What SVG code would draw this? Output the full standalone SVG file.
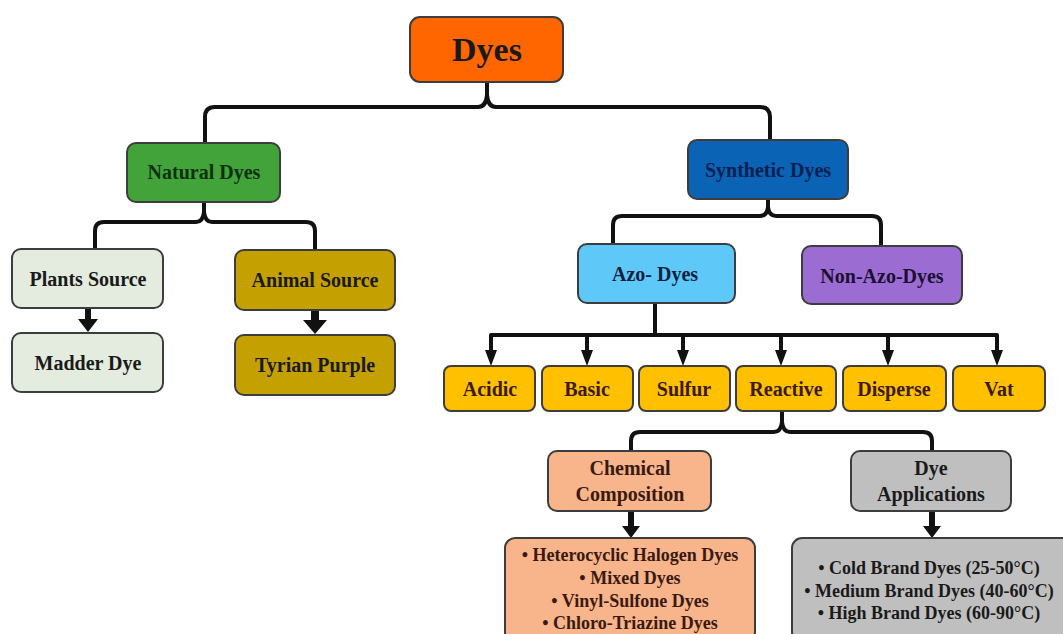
<svg xmlns="http://www.w3.org/2000/svg" width="1063" height="634" viewBox="0 0 1063 634">
<defs>
<style>
.box{stroke:#3d3d3d;stroke-width:2}
.t{font-family:"Liberation Serif","Times New Roman",serif;font-weight:bold;text-anchor:middle;fill:#1a1a1a}
.m{font-size:20px}
.s{font-size:18px}
.c{fill:none;stroke:#111;stroke-width:4;stroke-linecap:round;stroke-linejoin:round}
.th{fill:none;stroke:#111;stroke-width:4}
</style>
<marker id="ah" markerWidth="4" markerHeight="4" refX="2" refY="2" orient="auto" markerUnits="strokeWidth" viewBox="0 0 4 4">
<path d="M0,0.5 L4,2 L0,3.5 z" fill="#111"/>
</marker>
</defs>
<rect width="1063" height="634" fill="#ffffff"/>
<g id="connectors">
<path class="c" d="M205 143 L205 117 Q205 107 215 107 L478 107 Q486 107 487 95 L487 83"/>
<path class="c" d="M487 83 L487 95 Q488 107 496 107 L760 107 Q770 107 770 117 L770 140"/>
<path class="c" d="M95 249 L95 231 Q95 222 104 222 L196 222 Q203 222 204 212 L204 203"/>
<path class="c" d="M204 203 L204 212 Q205 222 212 222 L306 222 Q315 222 315 231 L315 250"/>
<path class="c" d="M613 244 L613 225 Q613 216 622 216 L760 216 Q767 216 768 207 L768 200"/>
<path class="c" d="M768 200 L768 207 Q769 216 776 216 L872 216 Q881 216 881 225 L881 246"/>
<path class="c" d="M631 451 L631 441 Q631 432 640 432 L774 432 Q781 432 782 422 L782 412"/>
<path class="c" d="M782 412 L782 422 Q783 432 790 432 L923 432 Q932 432 932 441 L932 451"/>
<path class="c" d="M655 304 L655 335"/>
<path class="c" d="M491 335 L997 335"/>
<path class="th" d="M491 335 L491 358" marker-end="url(#ah)"/>
<path class="th" d="M587 335 L587 358" marker-end="url(#ah)"/>
<path class="th" d="M683 335 L683 358" marker-end="url(#ah)"/>
<path class="th" d="M781 335 L781 358" marker-end="url(#ah)"/>
<path class="th" d="M888 335 L888 358" marker-end="url(#ah)"/>
<path class="th" d="M997 335 L997 358" marker-end="url(#ah)"/>
<path d="M85 309 L91 309 L91 319 L98 319 L88 332 L78 319 L85 319 z" fill="#111"/>
<path d="M311 311 L319 311 L319 320 L327 320 L315 334 L303 320 L311 320 z" fill="#111"/>
<path d="M628 512 L634 512 L634 526 L640 526 L631 538 L622 526 L628 526 z" fill="#111"/>
<path d="M929 512 L935 512 L935 526 L941 526 L932 538 L923 526 L929 526 z" fill="#111"/>
</g>
<g id="dyes"><rect class="box" x="410" y="17" width="153" height="65" rx="10" fill="#FF6600"/><text class="t" x="487" y="61" font-size="34" fill="#2a1100">Dyes</text></g>
<g id="natural"><rect class="box" x="127" y="143" width="153" height="59" rx="9" fill="#42A33A"/><text class="t m" x="204" y="179" style="fill:#0d300d">Natural Dyes</text></g>
<g id="synthetic"><rect class="box" x="688" y="140" width="160" height="59" rx="9" fill="#0A63B5"/><text class="t m" x="768" y="177" style="fill:#08204f">Synthetic Dyes</text></g>
<g id="plants"><rect class="box" x="12" y="249" width="151" height="59" rx="9" fill="#E3ECDE"/><text class="t m" x="88" y="286">Plants Source</text></g>
<g id="madder"><rect class="box" x="12" y="333" width="151" height="59" rx="9" fill="#E3ECDE"/><text class="t m" x="88" y="370">Madder Dye</text></g>
<g id="animal"><rect class="box" x="235" y="250" width="160" height="60" rx="9" fill="#C4A100"/><text class="t m" x="315" y="287">Animal Source</text></g>
<g id="tyrian"><rect class="box" x="235" y="335" width="160" height="60" rx="9" fill="#C4A100"/><text class="t m" x="315" y="372">Tyrian Purple</text></g>
<g id="azo"><rect class="box" x="578" y="244" width="157" height="59" rx="9" fill="#5EC9F8"/><text class="t m" x="655" y="281" style="fill:#0c1f40">Azo- Dyes</text></g>
<g id="nonazo"><rect class="box" x="802" y="246" width="160" height="58" rx="9" fill="#9B6DD2"/><text class="t m" x="882" y="283" style="fill:#1b0f33">Non-Azo-Dyes</text></g>
<g id="acidic"><rect class="box" x="444" y="366" width="91" height="45" rx="7" fill="#FFC000"/><text class="t m" x="490" y="396" style="fill:#3a1a00">Acidic</text></g>
<g id="basic"><rect class="box" x="542" y="366" width="91" height="45" rx="7" fill="#FFC000"/><text class="t m" x="587" y="396" style="fill:#3a1a00">Basic</text></g>
<g id="sulfur"><rect class="box" x="639" y="366" width="91" height="45" rx="7" fill="#FFC000"/><text class="t m" x="684" y="396" style="fill:#3a1a00">Sulfur</text></g>
<g id="reactive"><rect class="box" x="736" y="366" width="100" height="45" rx="7" fill="#FFC000"/><text class="t m" x="786" y="396" style="fill:#3a1a00">Reactive</text></g>
<g id="disperse"><rect class="box" x="843" y="366" width="103" height="45" rx="7" fill="#FFC000"/><text class="t m" x="894" y="396" style="fill:#3a1a00">Disperse</text></g>
<g id="vat"><rect class="box" x="953" y="366" width="92" height="45" rx="7" fill="#FFC000"/><text class="t m" x="999" y="396" style="fill:#3a1a00">Vat</text></g>
<g id="chemical"><rect class="box" x="548" y="451" width="163" height="60" rx="9" fill="#F8B48A"/><text class="t m" x="630" y="475" style="fill:#3a1a10">Chemical</text><text class="t m" x="630" y="501" style="fill:#3a1a10">Composition</text></g>
<g id="applications"><rect class="box" x="851" y="451" width="160" height="60" rx="9" fill="#BFBFBF"/><text class="t m" x="931" y="475">Dye</text><text class="t m" x="931" y="501">Applications</text></g>
<g id="chemlist"><rect class="box" x="505" y="538" width="250" height="104" rx="10" fill="#F8B48A"/>
<text class="t s" x="630" y="561" style="fill:#3a1a10">•  Heterocyclic Halogen Dyes</text>
<text class="t s" x="630" y="584" style="fill:#3a1a10">•  Mixed Dyes</text>
<text class="t s" x="630" y="607" style="fill:#3a1a10">•  Vinyl-Sulfone Dyes</text>
<text class="t s" x="630" y="629" style="fill:#3a1a10">•  Chloro-Triazine Dyes</text></g>
<g id="applist"><rect class="box" x="792" y="538" width="280" height="104" rx="10" fill="#BFBFBF"/>
<text class="t s" x="929" y="574">•  Cold Brand Dyes (25-50°C)</text>
<text class="t s" x="929" y="597">•  Medium Brand Dyes (40-60°C)</text>
<text class="t s" x="929" y="619">•  High Brand Dyes (60-90°C)</text></g>
</svg>
